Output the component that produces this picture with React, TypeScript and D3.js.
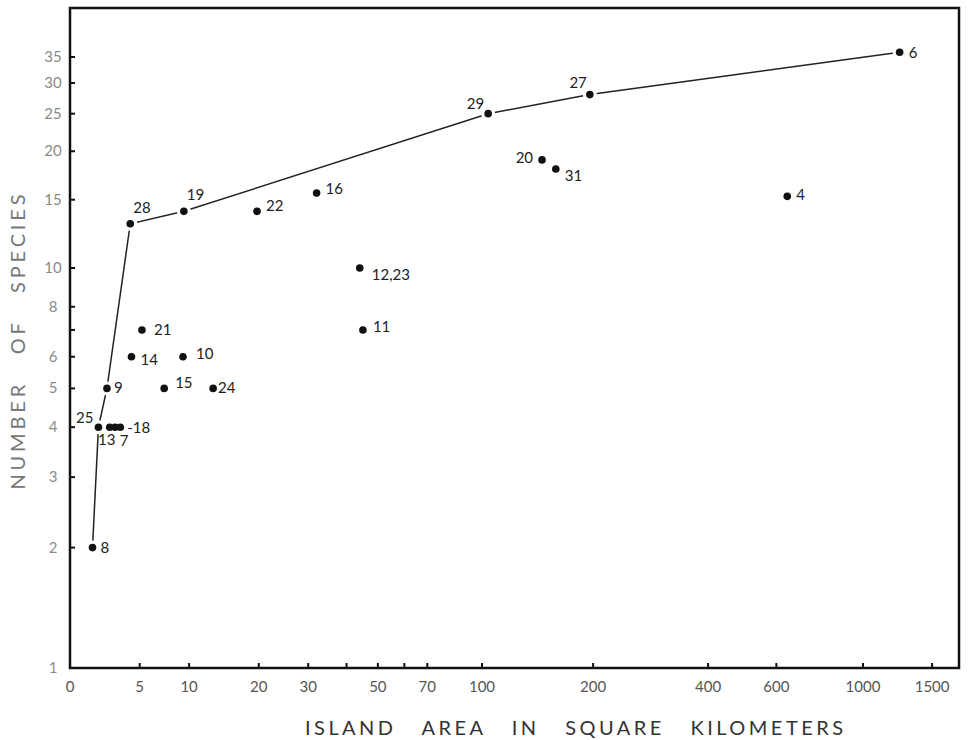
import React from 'react';
import * as d3 from 'd3';

// island number (label), area in km2, number of species
const islands = ['8', '25', '13', '7', '18', '9', '28', '14', '21', '15', '10', '19', '24', '22', '16', '12,23', '11', '29', '20', '31', '27', '4', '6'];
const areaKm2 = [1.4, 1.8, 2.6, 3.0, 3.4, 2.4, 4.2, 4.3, 5.2, 7.3, 9.3, 9.4, 13, 19.7, 32, 44, 45, 104, 146, 159, 196, 640, 1240];
const speciesCount = [2, 4, 4, 4, 4, 5, 13, 6, 7, 5, 6, 14, 5, 14, 15.6, 10, 7, 25, 19, 18, 28, 15.3, 36];

// islands joined by the upper line
const envelope = ['8', '25', '9', '28', '19', '29', '27', '6'];

const xTicks = [0, 5, 10, 20, 30, 40, 50, 60, 70, 100, 200, 400, 600, 1000, 1500];
const xTickLabels = ['0', '5', '10', '20', '30', '', '50', '', '70', '100', '200', '400', '600', '1000', '1500'];
const yTicks = [1, 2, 3, 4, 5, 6, 7, 8, 10, 15, 20, 25, 30, 35];
const yTickLabels = ['1', '2', '3', '4', '5', '6', '', '8', '10', '15', '20', '25', '30', '35'];

// label placement around each dot: dx, dy, anchor, shown text
const labelLayout: Record<string, [number, number, string, string?]> = {
  '8': [8, 5.5, 'start'],
  '25': [-5, -4.5, 'end'],
  '13': [-3, 17.5, 'middle'],
  '7': [9, 18.5, 'middle'],
  '18': [7, 5.5, 'start', '-18'],
  '9': [7, 5, 'start'],
  '28': [3, -10.5, 'start'],
  '14': [9, 8.5, 'start'],
  '21': [12, 5, 'start'],
  '15': [11, -0.5, 'start'],
  '10': [13, 2.5, 'start'],
  '19': [3, -11.5, 'start'],
  '24': [5, 4.5, 'start'],
  '22': [9, -0.5, 'start'],
  '16': [9, 0.5, 'start'],
  '12,23': [12, 11.5, 'start'],
  '11': [10, 2.5, 'start'],
  '29': [-4, -4.5, 'end'],
  '20': [-9, 3.5, 'end'],
  '31': [9, 11.5, 'start'],
  '27': [-3, -6.5, 'end'],
  '4': [9, 3.5, 'start'],
  '6': [9, 5.5, 'start'],
};

const font = 'Lato, "Open Sans", "DejaVu Sans", sans-serif';

export default function App() {
  const left = 70, right = 959, top = 8, bottom = 668;

  // area axis is logarithmic in (area + 10)
  const xLog = d3.scaleLog().domain([10, 1010]).range([70, 863]);
  const x = (a: number) => xLog(a + 10);
  const y = d3.scaleLog().domain([1, 10, 35]).range([668, 268, 57]);

  const pts = islands.map((id, i) => ({ id, px: x(areaKm2[i]), py: y(speciesCount[i]) }));
  const byId = new Map(pts.map((p) => [p.id, p]));
  const line = d3
    .line<{ px: number; py: number }>()
    .x((d) => d.px)
    .y((d) => d.py);
  const envPts = envelope.map((id) => byId.get(id)!);

  return (
    <svg
      width={968}
      height={740}
      style={{ position: 'absolute', left: 0, top: 0, background: '#fff' }}
      fontFamily={font}
    >
      <rect x={0} y={0} width={968} height={740} fill="#fff" />
      {/* frame */}
      <rect x={left} y={top} width={right - left} height={bottom - top} fill="none" stroke="#111" strokeWidth={2.5} />

      {/* y ticks */}
      {yTicks.map((t, i) => (
        <g key={'y' + t}>
          <line x1={left} x2={left + 5} y1={y(t)} y2={y(t)} stroke="#111" strokeWidth={2} />
          <text x={53} y={y(t) + 5} textAnchor="middle" fontSize={15} fill="#8a8a8a">
            {yTickLabels[i]}
          </text>
        </g>
      ))}

      {/* x ticks */}
      {xTicks.map((t, i) => (
        <g key={'x' + t}>
          {t > 0 && <line x1={x(t)} x2={x(t)} y1={bottom} y2={bottom - 5} stroke="#111" strokeWidth={2} />}
          <text x={x(t)} y={692} textAnchor="middle" fontSize={15} fill="#555">
            {xTickLabels[i]}
          </text>
        </g>
      ))}

      {/* envelope line */}
      <path d={line(envPts) || ''} fill="none" stroke="#222" strokeWidth={1.5} />

      {/* gaps in the line around dots */}
      {envPts.map((p) => (
        <circle key={'h' + p.id} cx={p.px} cy={p.py} r={7} fill="#fff" />
      ))}

      {/* dots */}
      {pts.map((p) => (
        <circle key={'p' + p.id} cx={p.px} cy={p.py} r={3.8} fill="#111" />
      ))}

      {/* labels */}
      {pts.map((p) => {
        const [dx, dy, anchor, txt] = labelLayout[p.id];
        return (
          <text key={'l' + p.id} x={p.px + dx} y={p.py + dy} textAnchor={anchor} fontSize={15} fill="#222">
            {txt || p.id}
          </text>
        );
      })}

      {/* axis titles */}
      <text x={574} y={735} textAnchor="middle" fontSize={20} fill="#333" textLength={538} lengthAdjust="spacing" style={{ whiteSpace: 'pre' }}>
        {'ISLAND   AREA   IN   SQUARE   KILOMETERS'}
      </text>
      <text
        transform="translate(25,342) rotate(-90)"
        textAnchor="middle"
        fontSize={20}
        fill="#777"
        textLength={295}
        lengthAdjust="spacing"
        style={{ whiteSpace: 'pre' }}
      >
        {'NUMBER   OF   SPECIES'}
      </text>
    </svg>
  );
}
